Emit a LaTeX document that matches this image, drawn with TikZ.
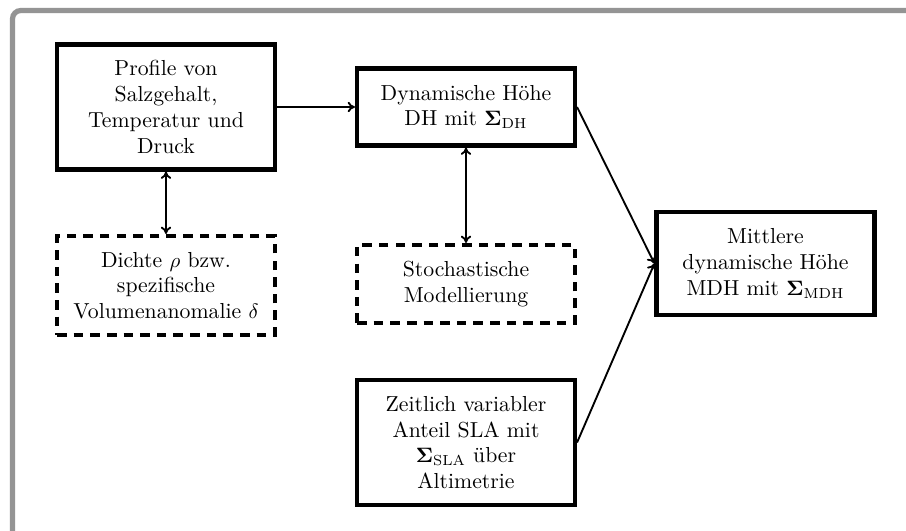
\documentclass[tikz,border=0pt]{standalone}
\usepackage{amsmath}
\usetikzlibrary{arrows.meta}
\begin{document}
\begin{tikzpicture}[x=0.4808pt,y=-0.4808pt,
  box/.style={draw, line width=2pt, align=center, minimum width=104.8pt, inner sep=2pt, font=\fontsize{10.45}{12.4}\selectfont},
  dbox/.style={box, dash pattern=on 4.6pt off 3.4pt},
  conn/.style={line width=0.9pt, -{To[length=3.5pt,width=5pt]}},
  dconn/.style={line width=0.9pt, {To[length=3.5pt,width=5pt]}-{To[length=3.5pt,width=5pt]}}]
\useasboundingbox (0,0) rectangle (906,531);
\fill[white] (0,0) rectangle (906,531);
\draw[line width=2.5pt, color=black!42, rounded corners=4pt] (12.5,560) -- (12.5,10.5) -- (940,10.5);
\node[box, minimum height=60.1pt] (prof) at (166,107) {Profile von\\Salzgehalt,\\Temperatur und\\Druck};
\node[box, minimum height=37pt] (dh) at (466,107) {Dynamische Höhe\\DH mit $\mathbf{\Sigma}_{\mathrm{DH}}$};
\node[dbox, minimum height=37.5pt] (stoch) at (466,284) {Stochastische\\Modellierung};
\node[dbox, minimum height=47.6pt] (dichte) at (166,285.5) {Dichte $\rho$ bzw.\\spezifische\\Volumenanomalie $\delta$};
\node[box, minimum height=49.5pt] (mdh) at (765.5,263.5) {Mittlere\\dynamische Höhe\\MDH mit $\mathbf{\Sigma}_{\mathrm{MDH}}$};
\node[box, minimum height=60.1pt] (sla) at (466,442.5) {Zeitlich variabler\\Anteil SLA mit\\$\mathbf{\Sigma}_{\mathrm{SLA}}$ über\\Altimetrie};
\draw[conn] (prof.east) -- (dh.west);
\draw[dconn] (prof.south) -- (dichte.north);
\draw[dconn] (dh.south) -- (stoch.north);
\draw[conn] (dh.east) -- (mdh.west);
\draw[conn] (sla.east) -- (mdh.west);
\end{tikzpicture}
\end{document}
